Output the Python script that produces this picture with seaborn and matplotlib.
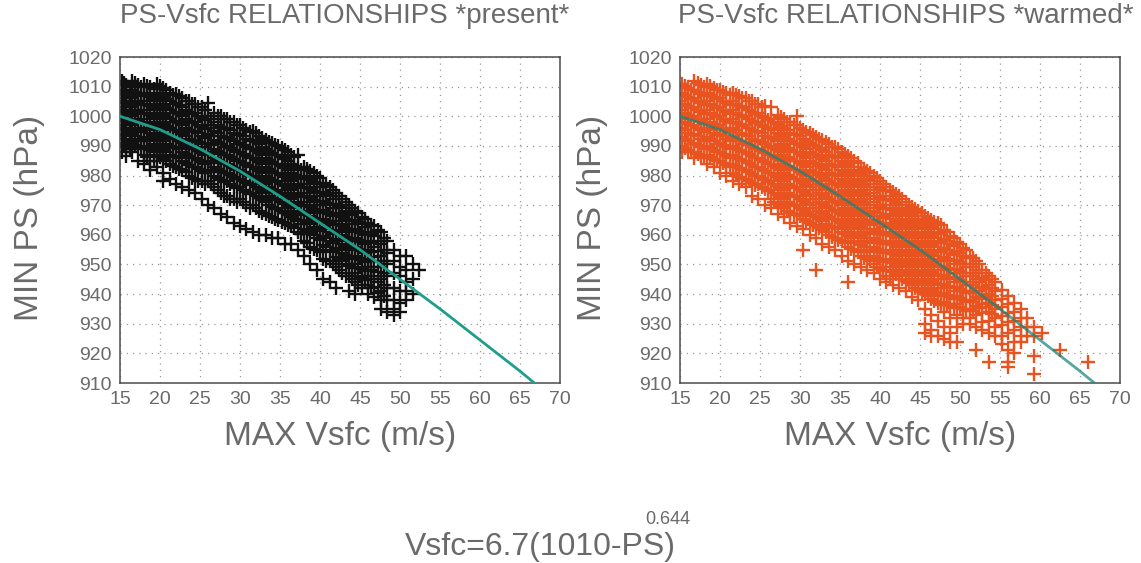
import matplotlib
matplotlib.use("Agg")
import matplotlib.pyplot as plt
import pandas as pd
import seaborn as sns

# ---------------- data ----------------
curve_vsfc = [15, 20, 25, 30, 35, 40, 45, 50, 55, 60, 65, 66.8]
curve_ps = [1000, 995.5, 989, 981.5, 973, 964, 955, 945, 935, 924.5, 914, 910]

x_ticks = [15, 20, 25, 30, 35, 40, 45, 50, 55, 60, 65, 70]
y_ticks = [910, 920, 930, 940, 950, 960, 970, 980, 990, 1000, 1010, 1020]

# present climate: Vsfc columns and the PS values read in each column
present_col_vsfc = [15.2, 15.8, 16.5, 17.2, 18.0, 18.8, 19.6, 20.4, 21.2, 22.0,
                    22.8, 23.6, 24.4, 25.2, 26.0, 26.8, 27.6, 28.4, 29.2, 30.0,
                    30.8, 31.6, 32.4, 33.2, 34.0, 34.8, 35.6, 36.4, 37.2, 38.0,
                    38.8, 39.6, 40.4, 41.2, 42.0, 42.8, 43.6, 44.4, 45.2, 46.0,
                    46.8, 47.6, 48.4, 49.2, 50.0, 50.8, 51.6, 52.4]
present_col_ps = [
    [1012, 1009, 1006, 1003, 1000, 997, 994, 991, 988],
    [1010.5, 1007.5, 1004.5, 1001.5, 998.5, 995.5, 992.5, 989.5, 986.5],
    [1012, 1009, 1006, 1003, 1000, 997, 994, 991, 988],
    [1010.5, 1007.5, 1004.5, 1001.5, 998.5, 995.5, 992.5, 989.5, 985],
    [1011, 1008, 1005, 1002, 999, 996, 993, 990, 987, 984],
    [1010, 1006.5, 1003.5, 1000.5, 997.5, 994.5, 991.5, 988.5, 985, 982],
    [1011, 1008, 1005, 1002, 999, 996, 993, 990, 987, 983],
    [1009.5, 1006.5, 1003.5, 1000.5, 997.5, 994.5, 991.5, 988.5, 985.5, 981, 978],
    [1008, 1005, 1002, 999, 996, 993, 990, 987, 984, 979],
    [1007.5, 1004.5, 1001.5, 998.5, 995.5, 992.5, 989.5, 986.5, 983, 977],
    [1006, 1003, 1000, 997, 994, 991, 988, 985, 982, 976],
    [1005, 1001.5, 998.5, 995.5, 992.5, 989.5, 986.5, 983.5, 980, 975],
    [1004, 1001, 998, 995, 992, 989, 986, 983, 979, 974],
    [1003, 999.5, 996.5, 993.5, 990.5, 987.5, 984.5, 981.5, 978, 972],
    [1004.5, 1000, 997, 994, 991, 988, 985, 982, 978, 970],
    [1001, 998, 995, 992, 989, 986, 983, 980, 976, 969],
    [1000, 996.5, 993.5, 990.5, 987.5, 984.5, 981.5, 978.5, 974, 967],
    [999, 996, 993, 990, 987, 984, 981, 978, 973, 966],
    [998, 994.5, 991.5, 988.5, 985.5, 982.5, 979.5, 976.5, 972, 964],
    [997, 994, 991, 988, 985, 982, 979, 976, 972, 963],
    [995.5, 992.5, 989.5, 986.5, 983.5, 980.5, 977.5, 974.5, 970, 962],
    [995, 992, 989, 986, 983, 980, 977, 974, 970, 961],
    [993.5, 990.5, 987.5, 984.5, 981.5, 978.5, 975.5, 972.5, 968, 960],
    [992, 989, 986, 983, 980, 977, 974, 971, 967, 960],
    [991, 987.5, 984.5, 981.5, 978.5, 975.5, 972.5, 969.5, 966, 959],
    [990, 987, 984, 981, 978, 975, 972, 969, 965, 959],
    [988.5, 985.5, 982.5, 979.5, 976.5, 973.5, 970.5, 967.5, 964, 957],
    [987, 984, 981, 978, 975, 972, 969, 966, 963, 957],
    [987, 982.5, 979.5, 976.5, 973.5, 970.5, 967.5, 964.5, 961, 955],
    [983, 980, 977, 974, 971, 968, 965, 962, 958, 953],
    [981.5, 978.5, 975.5, 972.5, 969.5, 966.5, 963.5, 960.5, 956, 950],
    [980, 977, 974, 971, 968, 965, 962, 959, 955, 948],
    [977.5, 974.5, 971.5, 968.5, 965.5, 962.5, 959.5, 956.5, 952, 945],
    [976, 973, 970, 967, 964, 961, 958, 955, 951, 944],
    [974, 970.5, 967.5, 964.5, 961.5, 958.5, 955.5, 952.5, 949, 942],
    [972, 969, 966, 963, 960, 957, 954, 951, 947],
    [970, 967.5, 964.5, 961.5, 958.5, 955.5, 952.5, 949.5, 946, 941],
    [968, 965, 962, 959, 956, 953, 950, 947, 944, 940],
    [966, 963.5, 960.5, 957.5, 954.5, 951.5, 948.5, 945.5, 942],
    [964, 961, 958, 955, 952, 949, 946, 943, 940],
    [963, 959.5, 956, 952.5, 949, 946, 942.5, 939],
    [961, 957, 953, 949, 945, 941, 938, 935],
    [958, 954, 950, 946, 942, 938, 934],
    [955, 951, 947, 942, 938, 935, 933],
    [953, 949, 946, 941, 937, 934],
    [953, 948, 944, 941, 938],
    [950, 945, 940],
    [948],
]
# present climate: further points read in between the columns above (dense core)
present_core_vsfc = [15.5, 16.2, 16.9, 17.6, 18.4, 19.2, 20.0, 20.8, 21.6, 22.4,
                     23.2, 24.0, 24.8, 25.6, 26.4, 27.2, 28.0, 28.8, 29.6, 30.4,
                     31.2, 32.0, 32.8, 33.6, 34.4, 35.2, 36.0, 36.8, 37.6, 38.4,
                     39.2, 40.0, 40.8, 41.6, 42.4, 43.2, 44.0, 44.8, 45.6, 46.4,
                     47.2, 48.0]
present_core_ps = [
    [1011.2, 1008.2, 1005.2, 1002.2, 999.2, 996.2, 993.2, 990.2],
    [1009.8, 1006.8, 1003.8, 1000.8, 997.8, 994.8, 991.8, 988.8],
    [1011.2, 1008.2, 1005.2, 1002.2, 999.2, 996.2, 993.2, 990.2],
    [1009.8, 1006.8, 1003.8, 1000.8, 997.8, 994.8, 991.8, 988.8],
    [1010.2, 1007.2, 1004.2, 1001.2, 998.2, 995.2, 992.2, 989.2, 986.2],
    [1009.2, 1005.8, 1002.8, 999.8, 996.8, 993.8, 990.8, 987.8, 984.8],
    [1010.2, 1007.2, 1004.2, 1001.2, 998.2, 995.2, 992.2, 989.2, 986.2],
    [1008.8, 1005.8, 1002.8, 999.8, 996.8, 993.8, 990.8, 987.8, 984.8],
    [1007.2, 1004.2, 1001.2, 998.2, 995.2, 992.2, 989.2, 986.2, 983.2],
    [1006.8, 1003.8, 1000.8, 997.8, 994.8, 991.8, 988.8, 985.8, 982.2],
    [1005.2, 1002.2, 999.2, 996.2, 993.2, 990.2, 987.2, 984.2, 981.2],
    [1004.2, 1000.8, 997.8, 994.8, 991.8, 988.8, 985.8, 982.8, 979.2],
    [1003.2, 1000.2, 997.2, 994.2, 991.2, 988.2, 985.2, 982.2, 978.2],
    [1002.2, 998.8, 995.8, 992.8, 989.8, 986.8, 983.8, 980.8, 977.2],
    [999.2, 996.2, 993.2, 990.2, 987.2, 984.2, 981.2, 977.2],
    [1000.2, 997.2, 994.2, 991.2, 988.2, 985.2, 982.2, 979.2, 975.2],
    [999.2, 995.8, 992.8, 989.8, 986.8, 983.8, 980.8, 977.8, 973.2],
    [998.2, 995.2, 992.2, 989.2, 986.2, 983.2, 980.2, 977.2, 972.2],
    [997.2, 993.8, 990.8, 987.8, 984.8, 981.8, 978.8, 975.8, 971.2],
    [996.2, 993.2, 990.2, 987.2, 984.2, 981.2, 978.2, 975.2, 971.2],
    [994.8, 991.8, 988.8, 985.8, 982.8, 979.8, 976.8, 973.8, 969.2],
    [994.2, 991.2, 988.2, 985.2, 982.2, 979.2, 976.2, 973.2, 969.2],
    [992.8, 989.8, 986.8, 983.8, 980.8, 977.8, 974.8, 971.8, 967.2],
    [991.2, 988.2, 985.2, 982.2, 979.2, 976.2, 973.2, 970.2, 966.2],
    [990.2, 986.8, 983.8, 980.8, 977.8, 974.8, 971.8, 968.8, 965.2],
    [989.2, 986.2, 983.2, 980.2, 977.2, 974.2, 971.2, 968.2, 964.2],
    [987.8, 984.8, 981.8, 978.8, 975.8, 972.8, 969.8, 966.8, 963.2],
    [986.2, 983.2, 980.2, 977.2, 974.2, 971.2, 968.2, 965.2, 962.2],
    [981.8, 978.8, 975.8, 972.8, 969.8, 966.8, 963.8, 960.2],
    [982.2, 979.2, 976.2, 973.2, 970.2, 967.2, 964.2, 961.2, 957.2],
    [980.8, 977.8, 974.8, 971.8, 968.8, 965.8, 962.8, 959.8, 955.2],
    [979.2, 976.2, 973.2, 970.2, 967.2, 964.2, 961.2, 958.2, 954.2],
    [976.8, 973.8, 970.8, 967.8, 964.8, 961.8, 958.8, 955.8, 951.2],
    [975.2, 972.2, 969.2, 966.2, 963.2, 960.2, 957.2, 954.2, 950.2],
    [973.2, 969.8, 966.8, 963.8, 960.8, 957.8, 954.8, 951.8, 948.2],
    [971.2, 968.2, 965.2, 962.2, 959.2, 956.2, 953.2, 950.2, 946.2],
    [969.2, 966.8, 963.8, 960.8, 957.8, 954.8, 951.8, 948.8, 945.2],
    [967.2, 964.2, 961.2, 958.2, 955.2, 952.2, 949.2, 946.2, 943.2],
    [965.2, 962.8, 959.8, 956.8, 953.8, 950.8, 947.8, 944.8],
    [963.2, 960.2, 957.2, 954.2, 951.2, 948.2, 945.2, 942.2],
    [961.5, 958, 954.5, 951, 947.5, 944, 940.5],
    [959, 955, 951, 947, 943, 939.5],
]

# warmed climate
warmed_col_vsfc = [15.2, 16.0, 16.8, 17.6, 18.4, 19.2, 20.0, 20.8, 21.6, 22.4,
                   23.2, 24.0, 24.8, 25.6, 26.4, 27.2, 28.0, 28.8, 29.6, 30.4,
                   31.2, 32.0, 32.8, 33.6, 34.4, 35.2, 36.0, 36.8, 37.6, 38.4,
                   39.2, 40.0, 40.8, 41.6, 42.4, 43.2, 44.0, 44.8, 45.6, 46.4,
                   47.2, 48.0, 48.8, 49.6, 50.4, 51.2, 52.0, 52.8, 53.6, 54.4,
                   55.2, 56.0, 56.8, 57.6, 58.4, 59.2, 60.2, 62.5, 66.0]
warmed_col_ps = [
    [1011, 1008, 1005, 1002, 999, 996, 993, 990, 988],
    [1009.5, 1006.5, 1003.5, 1000.5, 997.5, 994.5, 991.5, 988.5],
    [1012, 1009, 1006, 1003, 1000, 997, 994, 991, 988, 986],
    [1010.5, 1007.5, 1004.5, 1001.5, 998.5, 995.5, 992.5, 989.5, 986.5],
    [1011, 1008, 1005, 1002, 999, 996, 993, 990, 987, 984],
    [1009.5, 1006.5, 1003.5, 1000.5, 997.5, 994.5, 991.5, 988.5, 985.5, 983],
    [1009, 1006, 1003, 1000, 997, 994, 991, 988, 985, 981],
    [1008, 1004.5, 1001.5, 998.5, 995.5, 992.5, 989.5, 986.5, 983.5, 980],
    [1008, 1005, 1002, 999, 996, 993, 990, 987, 984, 981, 978],
    [1007, 1003.5, 1000.5, 997.5, 994.5, 991.5, 988.5, 985.5, 982.5, 979.5, 977],
    [1006, 1003, 1000, 997, 994, 991, 988, 985, 982, 979, 976],
    [1005, 1001.5, 998.5, 995.5, 992.5, 989.5, 986.5, 983.5, 980.5, 977.5, 973],
    [1004, 1001, 998, 995, 992, 989, 986, 983, 980, 977, 972],
    [1003.5, 999.5, 996.5, 993.5, 990.5, 987.5, 984.5, 981.5, 978.5, 975.5, 970],
    [1003, 999, 996, 993, 990, 987, 984, 981, 978, 975, 972, 969],
    [1000.5, 997.5, 994.5, 991.5, 988.5, 985.5, 982.5, 979.5, 976.5, 973.5, 970.5, 967],
    [999, 996, 993, 990, 987, 984, 981, 978, 975, 972, 969, 966],
    [998, 994.5, 991.5, 988.5, 985.5, 982.5, 979.5, 976.5, 973.5, 970.5, 967.5, 964],
    [1000, 997, 994, 991, 988, 985, 982, 979, 976, 973, 970, 967, 963],
    [995.5, 992.5, 989.5, 986.5, 983.5, 980.5, 977.5, 974.5, 971.5, 968.5, 965.5, 962, 955],
    [994.5, 991, 988, 985, 982, 979, 976, 973, 970, 967, 964, 960],
    [993, 990, 987, 984, 981, 978, 975, 972, 969, 966, 963, 959, 948],
    [992, 988.5, 985.5, 982.5, 979.5, 976.5, 973.5, 970.5, 967.5, 964.5, 961.5, 957],
    [990.5, 987, 984, 981, 978, 975, 972, 969, 966, 963, 960, 956],
    [989.5, 986.5, 983.5, 980.5, 977.5, 974.5, 971.5, 968.5, 965.5, 962.5, 959, 955],
    [988, 985, 982, 979, 976, 973, 970, 967, 964, 961, 958, 953],
    [986.5, 983.5, 980.5, 977.5, 974.5, 971.5, 968.5, 965.5, 962.5, 959.5, 956, 951, 944],
    [985, 982, 979, 976, 973, 970, 967, 964, 961, 958, 955, 950],
    [983, 980.5, 977.5, 974.5, 971.5, 968.5, 965.5, 962.5, 959.5, 956.5, 953, 949],
    [981.5, 979, 976, 973, 970, 967, 964, 961, 958, 955, 952, 948],
    [980, 977, 974, 971, 968, 965, 962, 959, 956, 953, 950, 947],
    [978, 975.5, 972.5, 969.5, 966.5, 963.5, 960.5, 957.5, 954.5, 951.5, 948.5, 945],
    [976, 973, 970, 967, 964, 961, 958, 955, 952, 949, 946, 944],
    [974.5, 971.5, 968.5, 965.5, 962.5, 959.5, 956.5, 953.5, 950.5, 947.5, 943],
    [973, 970, 967, 964, 961, 958, 955, 952, 949, 946, 942],
    [971, 968.5, 965.5, 962.5, 959.5, 956.5, 953.5, 950.5, 947.5, 944.5, 941],
    [969.5, 967, 964, 961, 958, 955, 952, 949, 946, 943, 939],
    [968, 965.5, 962.5, 959.5, 956.5, 953.5, 950.5, 947.5, 944.5, 941.5, 938],
    [966.5, 964, 961, 958, 955, 952, 949, 946, 943, 940, 935, 930, 927],
    [965, 962.5, 959.5, 956.5, 953.5, 950.5, 947.5, 944.5, 941.5, 938.5, 933, 928, 926],
    [964, 961, 958, 955, 952, 949, 946, 943, 940, 937, 931, 926],
    [961.5, 958.5, 955.5, 952.5, 949.5, 946.5, 943.5, 940.5, 937.5, 934, 929, 925],
    [959.5, 957, 954, 951, 948, 945, 942, 939, 936, 932, 927, 924],
    [957.5, 954.5, 951.5, 948.5, 945.5, 942.5, 939.5, 936.5, 933, 929, 924],
    [955.5, 953, 950, 947, 944, 941, 938, 935, 932, 930],
    [953, 950, 947, 944, 941, 938, 935, 932, 930],
    [951, 948, 945, 942, 939, 936, 933, 929, 921],
    [948, 945.5, 942.5, 939.5, 936.5, 933.5, 930.5, 928],
    [946, 943, 940, 937, 934, 931, 927, 917],
    [944, 941, 938, 935, 932, 929, 926],
    [941.5, 938.5, 935.5, 932.5, 929.5, 926, 923],
    [939.5, 936.5, 933.5, 930.5, 927, 921, 917, 915.5],
    [937, 934, 931, 928, 924, 920],
    [935, 932, 929, 926, 924],
    [932, 929, 926],
    [929, 926, 919, 913],
    [927],
    [921],
    [917],
]
# warmed climate: further points read in between the columns above (dense core)
warmed_core_vsfc = [15.6, 16.4, 17.2, 18.0, 18.8, 19.6, 20.4, 21.2, 22.0, 22.8,
                    23.6, 24.4, 25.2, 26.0, 26.8, 27.6, 28.4, 29.2, 30.0, 30.8,
                    31.6, 32.4, 33.2, 34.0, 34.8, 35.6, 36.4, 37.2, 38.0, 38.8,
                    39.6, 40.4, 41.2, 42.0, 42.8, 43.6, 44.4, 45.2, 46.0, 46.8,
                    47.6, 48.4, 49.2, 50.0, 50.8, 51.6, 52.4, 53.2, 54.0]
warmed_core_ps = [
    [1010.2, 1007.2, 1004.2, 1001.2, 998.2, 995.2, 992.2, 989.2],
    [1008.8, 1005.8, 1002.8, 999.8, 996.8, 993.8, 990.8, 987.8],
    [1011.2, 1008.2, 1005.2, 1002.2, 999.2, 996.2, 993.2, 990.2, 987.2],
    [1009.8, 1006.8, 1003.8, 1000.8, 997.8, 994.8, 991.8, 988.8, 985.8],
    [1010.2, 1007.2, 1004.2, 1001.2, 998.2, 995.2, 992.2, 989.2, 986.2],
    [1008.8, 1005.8, 1002.8, 999.8, 996.8, 993.8, 990.8, 987.8, 984.8],
    [1008.2, 1005.2, 1002.2, 999.2, 996.2, 993.2, 990.2, 987.2, 984.2],
    [1007.2, 1003.8, 1000.8, 997.8, 994.8, 991.8, 988.8, 985.8, 982.8],
    [1007.2, 1004.2, 1001.2, 998.2, 995.2, 992.2, 989.2, 986.2, 983.2, 980.2],
    [1006.2, 1002.8, 999.8, 996.8, 993.8, 990.8, 987.8, 984.8, 981.8, 978.8],
    [1005.2, 1002.2, 999.2, 996.2, 993.2, 990.2, 987.2, 984.2, 981.2, 978.2],
    [1004.2, 1000.8, 997.8, 994.8, 991.8, 988.8, 985.8, 982.8, 979.8, 976.8],
    [1003.2, 1000.2, 997.2, 994.2, 991.2, 988.2, 985.2, 982.2, 979.2, 976.2],
    [998.8, 995.8, 992.8, 989.8, 986.8, 983.8, 980.8, 977.8, 974.8],
    [998.2, 995.2, 992.2, 989.2, 986.2, 983.2, 980.2, 977.2, 974.2, 971.2],
    [999.8, 996.8, 993.8, 990.8, 987.8, 984.8, 981.8, 978.8, 975.8, 972.8, 969.8],
    [998.2, 995.2, 992.2, 989.2, 986.2, 983.2, 980.2, 977.2, 974.2, 971.2, 968.2],
    [997.2, 993.8, 990.8, 987.8, 984.8, 981.8, 978.8, 975.8, 972.8, 969.8, 966.8],
    [996.2, 993.2, 990.2, 987.2, 984.2, 981.2, 978.2, 975.2, 972.2, 969.2, 966.2],
    [994.8, 991.8, 988.8, 985.8, 982.8, 979.8, 976.8, 973.8, 970.8, 967.8, 964.8],
    [993.8, 990.2, 987.2, 984.2, 981.2, 978.2, 975.2, 972.2, 969.2, 966.2, 963.2],
    [992.2, 989.2, 986.2, 983.2, 980.2, 977.2, 974.2, 971.2, 968.2, 965.2, 962.2],
    [991.2, 987.8, 984.8, 981.8, 978.8, 975.8, 972.8, 969.8, 966.8, 963.8, 960.8],
    [989.8, 986.2, 983.2, 980.2, 977.2, 974.2, 971.2, 968.2, 965.2, 962.2, 959.2],
    [988.8, 985.8, 982.8, 979.8, 976.8, 973.8, 970.8, 967.8, 964.8, 961.8, 958.2],
    [987.2, 984.2, 981.2, 978.2, 975.2, 972.2, 969.2, 966.2, 963.2, 960.2, 957.2],
    [985.8, 982.8, 979.8, 976.8, 973.8, 970.8, 967.8, 964.8, 961.8, 958.8, 955.2],
    [984.2, 981.2, 978.2, 975.2, 972.2, 969.2, 966.2, 963.2, 960.2, 957.2, 954.2],
    [982.2, 979.8, 976.8, 973.8, 970.8, 967.8, 964.8, 961.8, 958.8, 955.8, 952.2],
    [980.8, 978.2, 975.2, 972.2, 969.2, 966.2, 963.2, 960.2, 957.2, 954.2, 951.2],
    [979.2, 976.2, 973.2, 970.2, 967.2, 964.2, 961.2, 958.2, 955.2, 952.2, 949.2],
    [977.2, 974.8, 971.8, 968.8, 965.8, 962.8, 959.8, 956.8, 953.8, 950.8, 947.8],
    [975.2, 972.2, 969.2, 966.2, 963.2, 960.2, 957.2, 954.2, 951.2, 948.2, 945.2],
    [973.8, 970.8, 967.8, 964.8, 961.8, 958.8, 955.8, 952.8, 949.8, 946.8],
    [972.2, 969.2, 966.2, 963.2, 960.2, 957.2, 954.2, 951.2, 948.2, 945.2],
    [970.2, 967.8, 964.8, 961.8, 958.8, 955.8, 952.8, 949.8, 946.8, 943.8],
    [968.8, 966.2, 963.2, 960.2, 957.2, 954.2, 951.2, 948.2, 945.2, 942.2],
    [967.2, 964.8, 961.8, 958.8, 955.8, 952.8, 949.8, 946.8, 943.8, 940.8],
    [965.8, 963.2, 960.2, 957.2, 954.2, 951.2, 948.2, 945.2, 942.2, 939.2],
    [964.2, 961.8, 958.8, 955.8, 952.8, 949.8, 946.8, 943.8, 940.8, 937.8],
    [963.2, 960.2, 957.2, 954.2, 951.2, 948.2, 945.2, 942.2, 939.2, 936.2],
    [960.8, 957.8, 954.8, 951.8, 948.8, 945.8, 942.8, 939.8, 936.8],
    [958.8, 956.2, 953.2, 950.2, 947.2, 944.2, 941.2, 938.2, 935.2],
    [956.8, 953.8, 950.8, 947.8, 944.8, 941.8, 938.8, 935.8],
    [954.8, 952.2, 949.2, 946.2, 943.2, 940.2, 937.2, 934.2],
    [952.2, 949.2, 946.2, 943.2, 940.2, 937.2, 934.2],
    [950.2, 947.2, 944.2, 941.2, 938.2, 935.2],
    [947.2, 944.8, 941.8, 938.8, 935.8],
    [945.2, 942.2, 939.2, 936.2, 933.2],
]

titles = ["PS-Vsfc RELATIONSHIPS *present*", "PS-Vsfc RELATIONSHIPS *warmed*"]
x_label = "MAX Vsfc (m/s)"
y_label = "MIN PS (hPa)"
formula_main = "Vsfc=6.7(1010-PS)"
formula_exp = "0.644"


def to_frame(col_v, col_ps, core_v, core_ps):
    rows = [(v, p) for v, ps in zip(col_v, col_ps) for p in ps]
    rows += [(v, p) for v, ps in zip(core_v, core_ps) for p in ps]
    return pd.DataFrame(rows, columns=["vsfc", "ps"])


present_df = to_frame(present_col_vsfc, present_col_ps, present_core_vsfc, present_core_ps)
warmed_df = to_frame(warmed_col_vsfc, warmed_col_ps, warmed_core_vsfc, warmed_core_ps)
curve_df = pd.DataFrame({"vsfc": curve_vsfc, "ps": curve_ps})

# ---------------- drawing ----------------
sns.set_style("white")
plt.rcParams["font.family"] = ["Liberation Sans", "DejaVu Sans"]

TXT = "#6a6a6a"
FRAME = "#4a4a4a"
fig = plt.figure(figsize=(11.41, 5.63), dpi=100)
fig.patch.set_facecolor("white")

W, H = 1141.0, 563.0
panels = [
    dict(x0=120, df=present_df, color="#111111", line="#1f9e8c", lalpha=1.0,
         title=titles[0], tcx=345, ylx=30),
    dict(x0=680, df=warmed_df, color="#e9531f", line="#13857a", lalpha=0.72,
         title=titles[1], tcx=906, ylx=592),
]
ax_w, ax_top, ax_bot = 440, 57, 383

for p in panels:
    ax = fig.add_axes([p["x0"] / W, 1 - ax_bot / H, ax_w / W, (ax_bot - ax_top) / H])
    ax.set_axisbelow(True)
    ax.grid(True, linestyle=(0, (1, 4)), color="#9a9a9a", linewidth=0.9)
    sns.scatterplot(data=p["df"], x="vsfc", y="ps", marker="+", s=100,
                    color=p["color"], linewidth=1.7, ax=ax, legend=False, zorder=2)
    sns.lineplot(data=curve_df, x="vsfc", y="ps", color=p["line"], alpha=p["lalpha"],
                 linewidth=2.0, ax=ax, zorder=3, estimator=None, sort=False)
    ax.set_xlim(15, 70)
    ax.set_ylim(910, 1020)
    ax.set_xticks(x_ticks)
    ax.set_yticks(y_ticks)
    ax.tick_params(axis="both", direction="out", length=5, width=1, color=FRAME,
                   labelsize=14, labelcolor=TXT, pad=1)
    ax.set_xlabel("")
    ax.set_ylabel("")
    for s in ax.spines.values():
        s.set_color(FRAME)
        s.set_linewidth(1.1)
    fig.text(p["tcx"] / W, 1 - 16 / H, p["title"], ha="center", va="center",
             fontsize=20, color=TXT)
    fig.text((p["x0"] + ax_w / 2 + 0) / W, 1 - 436 / H, x_label, ha="center",
             va="center", fontsize=24, color=TXT)
    fig.text(p["ylx"] / W, 1 - 218 / H, y_label, ha="center", va="center",
             rotation=90, fontsize=24, color=TXT)

fig.text(405 / W, 1 - 547 / H, formula_main, ha="left", va="center",
         fontsize=23, color=TXT)
fig.text(645 / W, 1 - 519 / H, formula_exp, ha="left", va="center",
         fontsize=13, color=TXT)

fig.savefig("out.png", dpi=100, facecolor="white")
